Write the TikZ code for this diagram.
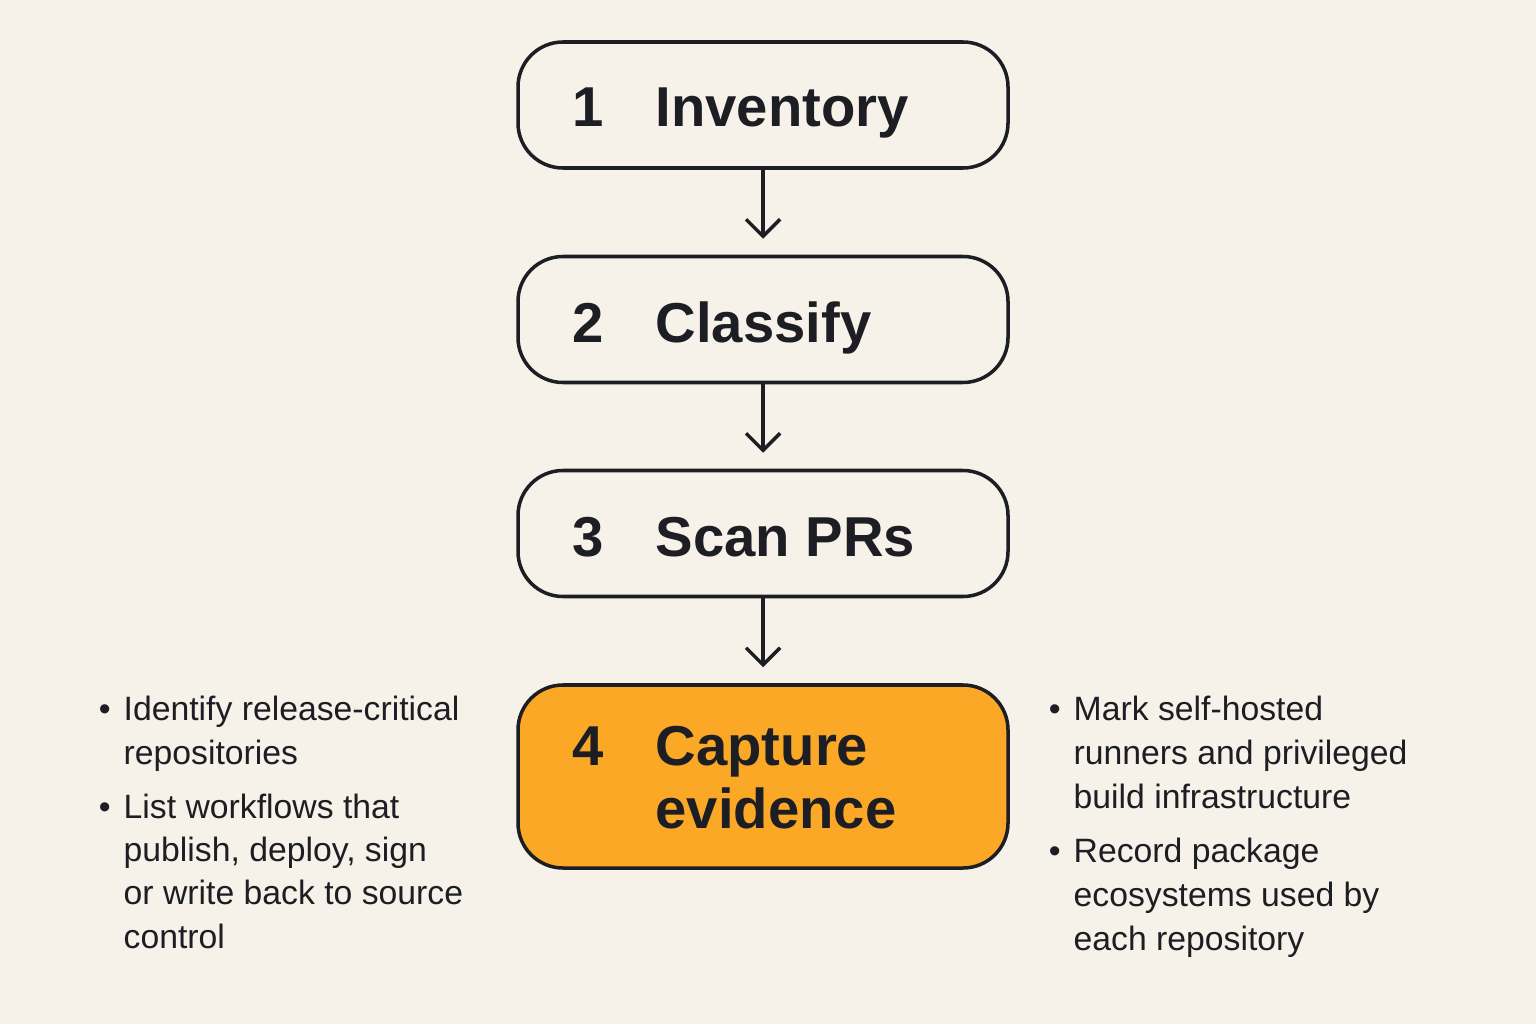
\documentclass[tikz,border=0pt]{standalone}
\usepackage{fontspec}
\setmainfont{Liberation Sans}
\usetikzlibrary{positioning,arrows.meta}
\definecolor{bgcolor}{RGB}{247,242,233}
\definecolor{stepcolor}{RGB}{247,242,233}
\definecolor{activecolor}{RGB}{250,168,38}
\definecolor{inkcolor}{RGB}{28,30,36}
\newcommand{\bdot}{\llap{\textbullet\hspace{0.13cm}}}

\begin{document}
\begin{tikzpicture}[
		% Box styles
		stepbox/.style={rectangle, rounded corners=0.45cm, minimum width=4.9cm, minimum height=1.26cm,
			fill=stepcolor, draw=inkcolor, line width=1pt},
		activebox/.style={stepbox, fill=activecolor, minimum height=1.83cm},
		% Text styles (base = last line)
		stepnum/.style={anchor=base west, inner sep=0pt, text=inkcolor,
			font=\fontsize{16}{17.9}\selectfont\bfseries},
		steptitle/.style={stepnum, align=left},
		bullet/.style={anchor=base west, inner sep=0pt, align=left, text=inkcolor,
			font=\fontsize{9.6}{12.3}\selectfont},
		% Arrow styles
		flow/.style={-{Straight Barb[length=1.7mm, width=3.4mm]}, line width=1pt,
			draw=inkcolor, shorten >=0.16cm}
		]
		
		% Canvas
		\fill[bgcolor] (0,0) rectangle (15.36,10.24);
		\useasboundingbox (0,0) rectangle (15.36,10.24);
		
		% Step boxes
		\node[stepbox] (s1) at (7.63,9.19) {};
		\node[stepbox] (s2) at (7.63,7.045) {};
		\node[stepbox] (s3) at (7.63,4.905) {};
		\node[activebox] (s4) at (7.63,2.475) {};
		
		% Step labels
		\node[stepnum] (n1) at (5.72,8.97) {1};
		\node[steptitle] (t1) at (6.55,8.97) {Inventory};
		
		\node[stepnum] (n2) at (5.72,6.82) {2};
		\node[steptitle] (t2) at (6.55,6.82) {Classify};
		
		\node[stepnum] (n3) at (5.72,4.68) {3};
		\node[steptitle] (t3) at (6.55,4.68) {Scan PRs};
		
		\node[stepnum] (n4) at (5.72,2.59) {4};
		\node[steptitle] (t4) at (6.55,1.96) {Capture\\evidence};
		
		% Arrows
		\draw[flow] (s1) -- (s2);
		\draw[flow] (s2) -- (s3);
		\draw[flow] (s3) -- (s4);
		
		% Notes left
		\node[bullet] (l1) at (1.23,2.60) {\bdot Identify release-critical\\repositories};
		\node[bullet] (l2) at (1.23,0.76) {\bdot List workflows that\\publish, deploy, sign\\or write back to source\\control};
		
		% Notes right
		\node[bullet, font=\fontsize{9.6}{12.5}\selectfont] (r1) at (10.73,2.16) {\bdot Mark self-hosted\\runners and privileged\\build infrastructure};
		\node[bullet, font=\fontsize{9.6}{12.5}\selectfont] (r2) at (10.73,0.74) {\bdot Record package\\ecosystems used by\\each repository};
		
	\end{tikzpicture}
\end{document}
